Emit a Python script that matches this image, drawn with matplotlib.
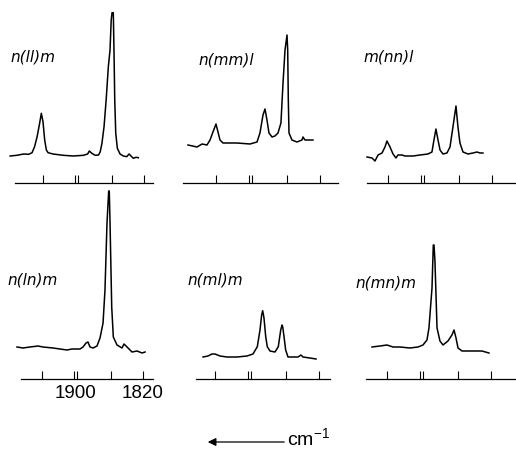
"""Six IR spectra in the carbonyl region, drawn like the printed figure."""
import matplotlib
matplotlib.use('Agg')
import matplotlib.pyplot as plt

# ---- data (wavenumber in cm-1, absorbance in arb. units) ----
labels = ['n(ll)m', 'n(mm)l', 'm(nn)l', 'n(ln)m', 'n(ml)m', 'n(mn)m']

wn_nllm = [1979, 1971, 1963, 1957, 1953, 1950, 1947, 1944, 1942, 1940, 1938, 1936, 1934,
           1928, 1916, 1904, 1892, 1887, 1885, 1882, 1878, 1874, 1872, 1870, 1867.5, 1865,
           1862.4, 1860.4, 1859, 1858, 1856.5, 1855.7, 1854.8, 1853.6, 1851.7, 1848.5,
           1844.6, 1840.6, 1837.8, 1835.5, 1832.7, 1829.5, 1826.8]
ab_nllm = [27, 27.7, 29, 28.7, 30.3, 36.3, 46.3, 59.7, 69.7, 61.3, 43, 33, 30.3,
           29, 27.7, 27, 27.7, 29, 32, 29.7, 27.7, 28, 31.3, 39.7, 56.3, 83,
           116.3, 133, 163, 170.3, 170.3, 133, 83, 49.7, 34.7, 29,
           27, 26.3, 29, 27, 24.7, 25.7, 25.3]

wn_nmml = [1972.3, 1967, 1961.9, 1956.1, 1950.4, 1946.9, 1943.5, 1940, 1937.7, 1935.4,
           1931.9, 1915.8, 1900.8, 1892.7, 1889.3, 1885.8, 1883.5, 1881.2, 1878.9, 1875.4,
           1872, 1868.5, 1865.1, 1862.7, 1860.4, 1858.1, 1857.3, 1856.6, 1855.8, 1852.4,
           1846.6, 1840.8, 1839.7, 1837.4, 1831.6, 1828.2]
ab_nmml = [38, 37, 36, 39, 38, 43, 51, 59, 51, 43,
           40, 40, 39, 41, 50, 68, 74, 63, 50, 46,
           47, 50, 60, 100, 133, 148, 133, 83, 50, 43,
           41, 43, 46, 43, 43, 43]

wn_mnnl = [1964.2, 1958.4, 1955, 1951.5, 1946.9, 1943.5, 1941.2, 1937.7, 1934.2, 1930.8,
           1928.5, 1923.9, 1920.4, 1911.2, 1903.1, 1893.9, 1889.3, 1887, 1884.7, 1882.3,
           1880, 1876.6, 1872, 1868.5, 1865.1, 1861.6, 1859.3, 1857, 1853.5, 1847.8,
           1842, 1837.4, 1833.9, 1830.5]
ab_mnnl = [26, 25, 22, 28, 30, 36, 42, 36, 29, 25,
           28, 28, 27, 27, 28, 29, 31, 43, 54, 43,
           33, 29, 30, 36, 56, 77, 56, 40, 31, 29,
           30, 31, 30, 30]

wn_nlnm = [1969.7, 1962.6, 1954.3, 1944.8, 1938.8, 1926.9, 1918.6, 1910.3, 1904.4, 1894.9,
           1891.3, 1887.7, 1885.4, 1883, 1879.4, 1874.7, 1871.1, 1867.5, 1865.2, 1862.8,
           1860.8, 1860.1, 1859.2, 1857.2, 1855.3, 1850.9, 1845, 1842.6, 1839, 1833.1,
           1827.1, 1821.2, 1817.6]
ab_nlnm = [32, 31, 32, 33, 32, 31, 30, 29, 30, 30,
           32, 36, 37, 32, 31, 33, 41, 56, 89, 156,
           188, 188, 156, 72, 42, 34, 31, 35, 32, 27,
           28, 26, 27]

wn_nmlm = [1953.8, 1948.1, 1943.5, 1940, 1934.2, 1926.2, 1914.6, 1903.1, 1896.2, 1891.2,
           1888.1, 1886.2, 1885, 1883.5, 1881.5, 1879.7, 1876.6, 1870.8, 1867, 1864.2,
           1862.7, 1861.9, 1860.4, 1858.5, 1855.8, 1850.1, 1844.3, 1840.8, 1838.5, 1830.5,
           1823.5]
ab_nmlm = [22, 23, 25, 25, 23, 22, 22, 23, 25, 32.3,
           49, 64, 68.3, 61, 42.3, 32.3, 28, 27, 32.3, 49,
           54, 52.3, 42.3, 29, 22, 22, 22, 24, 22, 21,
           20]

wn_nmnm = [1957.3, 1948.1, 1940, 1933.1, 1925, 1913.5, 1904.3, 1898.5, 1893.9, 1891.6,
           1888.1, 1886.6, 1885.8, 1884.7, 1882.3, 1878.9, 1875.4, 1869.7, 1865.1, 1862.7,
           1860.4, 1858.1, 1853.5, 1844.3, 1836.2, 1830.5, 1822.4]
ab_nmnm = [32, 33, 34, 32, 32, 31, 32, 34, 39, 51,
           91, 134, 134, 118, 51, 38, 34, 38, 44, 49,
           41, 31, 28, 28, 28, 28, 26]

spectra = [(wn_nllm, ab_nllm), (wn_nmml, ab_nmml), (wn_mnnl, ab_mnnl),
           (wn_nlnm, ab_nlnm), (wn_nmlm, ab_nmlm), (wn_nmnm, ab_nmnm)]

tick_wn = [1940, 1902, 1898, 1858, 1820]
tick_text = ['', '', '', '', '1820']

# ---- layout in pixels (figure is 516 x 451) ----
W, H = 516, 451
# (left, right, top, bottom px, px of 1940 tick, px per cm-1, spine start px, spine end px)
panels = [
    (5, 165, 0, 183, 43, 0.842, 15, 153),
    (175, 340, 0, 183, 216, 0.867, 183, 338),
    (345, 516, 0, 183, 388, 0.867, 367, 515),
    (5, 165, 190, 379, 42, 0.842, 21, 153),
    (175, 340, 190, 379, 215, 0.867, 196, 330),
    (345, 516, 190, 379, 387, 0.867, 366, 515),
]
label_pos = [(10, 57), (198, 60), (363, 57), (7, 280), (187, 280), (355, 283)]


def px_to_wn(px, anchor, scale):
    return 1940 - (px - anchor) / scale


def main():
    plt.rcParams['font.family'] = ['Liberation Sans', 'DejaVu Sans']
    fig = plt.figure(figsize=(W / 100, H / 100), dpi=100)

    for i, (left, right, top, bottom, anchor, scale, s0, s1) in enumerate(panels):
        ax = fig.add_axes([left / W, 1 - bottom / H, (right - left) / W, (bottom - top) / H])
        wn, ab = spectra[i]
        ax.plot(wn, ab, color='black', linewidth=1.1, solid_joinstyle='round')
        ax.set_xlim(px_to_wn(left, anchor, scale), px_to_wn(right, anchor, scale))
        ax.set_ylim(0, bottom - top)
        for side in ['left', 'right', 'top']:
            ax.spines[side].set_visible(False)
        ax.spines['bottom'].set_bounds(px_to_wn(s0, anchor, scale), px_to_wn(s1, anchor, scale))
        ax.spines['bottom'].set_linewidth(0.9)
        ax.set_yticks([])
        ax.patch.set_alpha(0)
        if i == 3:
            ax.set_xticks(tick_wn, labels=tick_text)
            ax.set_xticks([1900], labels=['1900'], minor=True)
            ax.tick_params(axis='x', which='minor', length=0, labelsize=13.5, pad=4)
        else:
            ax.set_xticks(tick_wn, labels=[''] * len(tick_wn))
        ax.tick_params(axis='x', which='major', direction='in', length=6, width=0.8,
                       pad=4, labelsize=13.5)

        lx, ly = label_pos[i]
        fig.text(lx / W, 1 - ly / H, labels[i], fontsize=11, style='italic',
                 family='DejaVu Sans', va='center', ha='left')

    # arrow pointing to higher wavenumber
    y_arrow = 1 - 442 / H
    fig.add_artist(matplotlib.patches.FancyArrowPatch(
        (287 / W, y_arrow), (205 / W, y_arrow), transform=fig.transFigure,
        arrowstyle='-|>', mutation_scale=12, color='black', linewidth=0.9))
    fig.text(287 / W, 1 - 446 / H, r'cm$^{\mathregular{-1}}$', fontsize=14,
             va='baseline', ha='left')

    fig.savefig('out.png', dpi=100)


if __name__ == '__main__':
    main()
